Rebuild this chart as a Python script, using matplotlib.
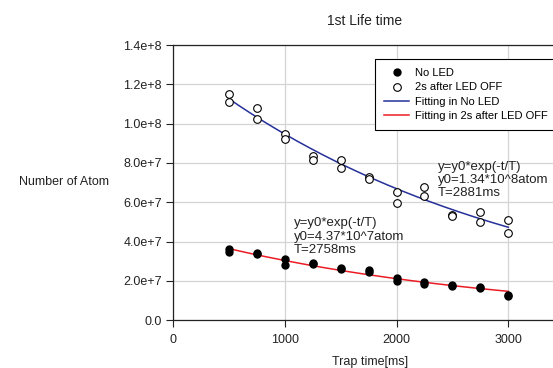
"""1st Life time: atom number vs trap time with exponential fits."""

import numpy as np
import matplotlib
matplotlib.use("Agg")
import matplotlib.pyplot as plt

plt.rcParams["font.family"] = ["Liberation Sans", "DejaVu Sans"]

# measured points (two shots per trap time)
t_open = [500, 500, 750, 750, 1000, 1000, 1250, 1250, 1500, 1500, 1750, 1750,
          2000, 2000, 2250, 2250, 2500, 2500, 2750, 2750, 3000, 3000]
n_open = [1.149e8, 1.108e8, 1.078e8, 1.022e8, 0.948e8, 0.920e8, 0.838e8, 0.815e8,
          0.815e8, 0.777e8, 0.727e8, 0.719e8, 0.653e8, 0.599e8, 0.677e8, 0.631e8,
          0.534e8, 0.528e8, 0.551e8, 0.500e8, 0.508e8, 0.443e8]

t_fill = [500, 500, 750, 750, 1000, 1000, 1250, 1250, 1500, 1500, 1750, 1750,
          2000, 2000, 2250, 2250, 2500, 2500, 2750, 2750, 3000, 3000]
n_fill = [3.61e7, 3.48e7, 3.42e7, 3.36e7, 3.11e7, 2.83e7, 2.90e7, 2.85e7,
          2.65e7, 2.61e7, 2.54e7, 2.47e7, 2.14e7, 2.01e7, 1.93e7, 1.87e7,
          1.80e7, 1.76e7, 1.69e7, 1.63e7, 1.29e7, 1.25e7]

# fit parameters printed on the chart
fit_open = (1.34e8, 2881)
fit_fill = (4.37e7, 2758)
fit_range = (500, 3000)

yticks = [0, 2e7, 4e7, 6e7, 8e7, 1e8, 1.2e8, 1.4e8]
ytick_labels = ["0.0", "2.0e+7", "4.0e+7", "6.0e+7", "8.0e+7", "1.0e+8", "1.2e+8", "1.4e+8"]
xticks = [0, 1000, 2000, 3000]

fig = plt.figure(figsize=(5.53, 3.68), dpi=100)
ax = fig.add_axes([173 / 553, 1 - 320.3 / 368, 380 / 553, 275.3 / 368])

t_fit = np.linspace(*fit_range, 200)
ax.plot(t_fill, n_fill, "o", color="black", ms=5, label="No LED", zorder=3)
ax.plot(t_open, n_open, "o", mfc="white", mec="black", mew=0.8, ms=5.5,
        label="2s after LED OFF", zorder=3)
ax.plot(t_fit, fit_open[0] * np.exp(-t_fit / fit_open[1]), color="#25309a", lw=1.1,
        label="Fitting in No LED", zorder=2)
ax.plot(t_fit, fit_fill[0] * np.exp(-t_fit / fit_fill[1]), color="#ec1c24", lw=1.1,
        label="Fitting in 2s after LED OFF", zorder=2)

ax.set_xlim(0, 3400)
ax.set_ylim(0, 1.4e8)
ax.set_xticks(xticks)
ax.set_yticks(yticks)
ax.set_yticklabels(ytick_labels)
ax.tick_params(labelsize=9, direction="out", length=5, width=0.8, pad=3, colors="#222222")
ax.tick_params(axis="x", pad=5)
ax.grid(True, color="#d4d4d4", lw=0.9)
ax.set_axisbelow(True)
ax.spines["right"].set_visible(False)
for s in ["top", "left", "bottom"]:
    ax.spines[s].set_linewidth(0.9)
    ax.spines[s].set_color("#222222")

ax.text(2370, 7.13e7, "y=y0*exp(-t/T)\ny0=1.34*10^8atom\nT=2881ms",
        fontsize=9.5, linespacing=1.15, va="center", color="#222222")
ax.text(1080, 4.25e7, "y=y0*exp(-t/T)\ny0=4.37*10^7atom\nT=2758ms",
        fontsize=9.5, linespacing=1.15, va="center", color="#222222")

leg = ax.legend(loc="upper left", bbox_to_anchor=(375 / 553, 1 - 59.3 / 368),
                bbox_transform=fig.transFigure, fontsize=8, frameon=True,
                fancybox=False, edgecolor="black", framealpha=1, borderaxespad=0,
                handlelength=2.3, handletextpad=0.5, borderpad=0.8, labelspacing=0.38)
leg.get_frame().set_linewidth(0.8)

fig.text(365 / 553, 1 - 21 / 368, "1st Life time", ha="center", va="center",
         fontsize=10, color="#222222")
fig.text(64 / 553, 1 - 181.7 / 368, "Number of Atom", ha="center", va="center",
         fontsize=9, color="#222222")
fig.text(370 / 553, 1 - 361.5 / 368, "Trap time[ms]", ha="center", va="center",
         fontsize=9, color="#222222")

plt.savefig("out.png", dpi=100)
plt.close()
